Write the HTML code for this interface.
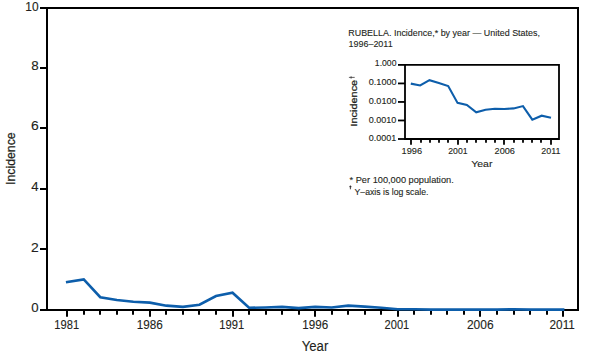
<!DOCTYPE html><html><head><meta charset="utf-8"><title>Rubella incidence</title><style>html,body{margin:0;padding:0;background:#fff;width:599px;height:355px;overflow:hidden}svg{display:block}</style></head><body>
<svg width="599" height="355" viewBox="0 0 599 355">
<rect width="599" height="355" fill="#fff"/>
<g stroke="#000" stroke-width="2" fill="none" stroke-linecap="butt">
<path d="M47,8 H578 V310 H47 Z" stroke-linejoin="miter"/>
<path d="M40,310 H47"/>
<path d="M40,249 H47"/>
<path d="M40,189 H47"/>
<path d="M40,128 H47"/>
<path d="M40,68 H47"/>
<path d="M40,8 H47"/>
<path d="M67,310 V316.8"/>
<path d="M84,310 V314.7"/>
<path d="M100,310 V314.7"/>
<path d="M117,310 V314.7"/>
<path d="M133,310 V314.7"/>
<path d="M150,310 V316.8"/>
<path d="M166,310 V314.7"/>
<path d="M183,310 V314.7"/>
<path d="M199,310 V314.7"/>
<path d="M216,310 V314.7"/>
<path d="M233,310 V316.8"/>
<path d="M249,310 V314.7"/>
<path d="M266,310 V314.7"/>
<path d="M282,310 V314.7"/>
<path d="M299,310 V314.7"/>
<path d="M315,310 V316.8"/>
<path d="M332,310 V314.7"/>
<path d="M348,310 V314.7"/>
<path d="M365,310 V314.7"/>
<path d="M381,310 V314.7"/>
<path d="M398,310 V316.8"/>
<path d="M414,310 V314.7"/>
<path d="M431,310 V314.7"/>
<path d="M447,310 V314.7"/>
<path d="M464,310 V314.7"/>
<path d="M480,310 V316.8"/>
<path d="M497,310 V314.7"/>
<path d="M514,310 V314.7"/>
<path d="M530,310 V314.7"/>
<path d="M547,310 V314.7"/>
<path d="M563,310 V316.8"/>
</g>
<polyline points="67.22,282.12 83.75,279.40 100.28,297.22 116.81,299.94 133.34,301.75 149.87,302.65 166.40,305.67 182.93,306.88 199.46,304.77 215.99,296.01 232.52,292.69 249.05,307.79 265.58,307.49 282.11,306.88 298.64,308.09 315.17,306.88 331.70,307.49 348.23,305.67 364.76,306.58 381.29,307.79 397.82,309.30 414.35,309.30 430.88,309.60 447.41,309.60 463.94,309.60 480.47,309.60 497.00,309.60 513.53,309.30 530.06,309.60 546.59,309.60 563.12,309.60" fill="none" stroke="#0d5eab" stroke-width="2.6" stroke-linejoin="miter" stroke-miterlimit="10" stroke-linecap="square"/>
<g stroke="#000" stroke-width="1.8" fill="none">
<path d="M405,64.9 H559 V139 H405 Z"/>
<path d="M398,64.90 H405"/>
<path d="M398,83.43 H405"/>
<path d="M398,101.95 H405"/>
<path d="M398,120.47 H405"/>
<path d="M398,139.00 H405"/>
<path d="M411,139 V144.8"/>
<path d="M421,139 V142.8"/>
<path d="M430,139 V142.8"/>
<path d="M439,139 V142.8"/>
<path d="M448,139 V142.8"/>
<path d="M458,139 V144.8"/>
<path d="M467,139 V142.8"/>
<path d="M476,139 V142.8"/>
<path d="M486,139 V142.8"/>
<path d="M495,139 V142.8"/>
<path d="M504,139 V144.8"/>
<path d="M514,139 V142.8"/>
<path d="M523,139 V142.8"/>
<path d="M532,139 V142.8"/>
<path d="M541,139 V142.8"/>
<path d="M551,139 V144.8"/>
</g>
<polyline points="410.80,83.60 420.15,85.50 429.49,80.20 438.84,82.90 448.19,86.00 457.54,102.90 466.88,104.90 476.23,112.30 485.58,109.70 494.92,108.80 504.27,109.00 513.62,108.40 522.96,106.10 532.31,119.70 541.66,115.70 551.00,117.70" fill="none" stroke="#0d5eab" stroke-width="2.1" stroke-linejoin="miter"/>
<g font-family='"Liberation Sans", sans-serif'>
<text transform="translate(25.300,10.650) scale(0.9557,0.9774)" font-size="12.5" fill="#231f20" stroke="#231f20" stroke-width="0.12">10</text>
<text transform="translate(31.350,69.700) scale(1.0704,0.9660)" font-size="12.5" fill="#231f20" stroke="#231f20" stroke-width="0.12">8</text>
<text transform="translate(31.100,129.800) scale(1.1133,1.0345)" font-size="12.5" fill="#231f20" stroke="#231f20" stroke-width="0.12">6</text>
<text transform="translate(31.250,190.800) scale(1.0562,1.0000)" font-size="12.5" fill="#231f20" stroke="#231f20" stroke-width="0.12">4</text>
<text transform="translate(31.100,251.800) scale(1.1133,1.0172)" font-size="12.5" fill="#231f20" stroke="#231f20" stroke-width="0.12">2</text>
<text transform="translate(31.350,311.600) scale(1.0592,0.9601)" font-size="12.5" fill="#231f20" stroke="#231f20" stroke-width="0.12">0</text>
<text transform="translate(54.300,328.650) scale(0.8914,0.9774)" font-size="12.5" fill="#231f20" stroke="#231f20" stroke-width="0.12">1981</text>
<text transform="translate(136.650,328.650) scale(0.9372,0.9774)" font-size="12.5" fill="#231f20" stroke="#231f20" stroke-width="0.12">1986</text>
<text transform="translate(219.300,328.650) scale(0.8952,0.9774)" font-size="12.5" fill="#231f20" stroke="#231f20" stroke-width="0.12">1991</text>
<text transform="translate(302.300,328.650) scale(0.9315,0.9774)" font-size="12.5" fill="#231f20" stroke="#231f20" stroke-width="0.12">1996</text>
<text transform="translate(384.550,328.650) scale(0.8880,0.9774)" font-size="12.5" fill="#231f20" stroke="#231f20" stroke-width="0.12">2001</text>
<text transform="translate(466.900,328.650) scale(0.9586,0.9774)" font-size="12.5" fill="#231f20" stroke="#231f20" stroke-width="0.12">2006</text>
<text transform="translate(549.550,328.600) scale(0.9437,0.9774)" font-size="12.5" fill="#231f20" stroke="#231f20" stroke-width="0.12">2011</text>
<text transform="translate(301.750,350.500) scale(0.9401,1.0161)" font-size="14" fill="#231f20" stroke="#231f20" stroke-width="0.12">Year</text>
<text transform="translate(14.650,184.950) rotate(-90) scale(0.8779,0.9292)" font-size="14" fill="#231f20" stroke="#231f20" stroke-width="0.28">Incidence</text>
<text transform="translate(348.250,36.150) scale(0.8953,0.9903)" font-size="10" fill="#231f20" stroke="#231f20" stroke-width="0.12">RUBELLA. Incidence,* by year — United States,</text>
<text transform="translate(348.500,47.200) scale(0.8954,0.8558)" font-size="10" fill="#231f20" stroke="#231f20" stroke-width="0.12">1996–2011</text>
<text transform="translate(374.850,66.200) scale(0.9611,0.9560)" font-size="9" fill="#231f20" stroke="#231f20" stroke-width="0.12">1.000</text>
<text transform="translate(368.800,85.100) scale(1.0093,0.9483)" font-size="9" fill="#231f20" stroke="#231f20" stroke-width="0.12">0.1000</text>
<text transform="translate(368.800,104.200) scale(1.0093,0.9483)" font-size="9" fill="#231f20" stroke="#231f20" stroke-width="0.12">0.0100</text>
<text transform="translate(368.750,122.800) scale(1.0000,1.0081)" font-size="9" fill="#231f20" stroke="#231f20" stroke-width="0.12">0.0010</text>
<text transform="translate(368.750,141.050) scale(0.9963,0.9483)" font-size="9" fill="#231f20" stroke="#231f20" stroke-width="0.12">0.0001</text>
<text transform="translate(401.550,153.650) scale(1.0287,1.0081)" font-size="9" fill="#231f20" stroke="#231f20" stroke-width="0.12">1996</text>
<text transform="translate(448.250,153.550) scale(0.9668,0.9483)" font-size="9" fill="#231f20" stroke="#231f20" stroke-width="0.12">2001</text>
<text transform="translate(494.600,153.550) scale(1.0180,0.9483)" font-size="9" fill="#231f20" stroke="#231f20" stroke-width="0.12">2006</text>
<text transform="translate(541.250,153.650) scale(0.9920,1.0081)" font-size="9" fill="#231f20" stroke="#231f20" stroke-width="0.12">2011</text>
<text transform="translate(471.200,167.250) scale(1.0000,0.9468)" font-size="10.5" fill="#231f20" stroke="#231f20" stroke-width="0.12">Year</text>
<text transform="translate(357.350,126.450) rotate(-90) scale(1.0377,0.8816)" font-size="10.5" fill="#231f20" stroke="#231f20" stroke-width="0.28">Incidence</text>
<text transform="translate(349.550,182.900) scale(0.9250,0.9002)" font-size="10" fill="#231f20" stroke="#231f20" stroke-width="0.12">* Per 100,000 population.</text>
<text transform="translate(354.550,194.900) scale(0.8700,0.9002)" font-size="10" fill="#231f20" stroke="#231f20" stroke-width="0.12">Y–axis is log scale.</text>
</g>
<path d="M350.4,185.5 V189.3 M349.3,186.7 H351.5" stroke="#231f20" stroke-width="0.85" fill="none"/><path d="M348.9,77.4 H354.7 M351.1,76.2 V78.7" stroke="#231f20" stroke-width="0.7" fill="none"/>
</svg></body></html>
